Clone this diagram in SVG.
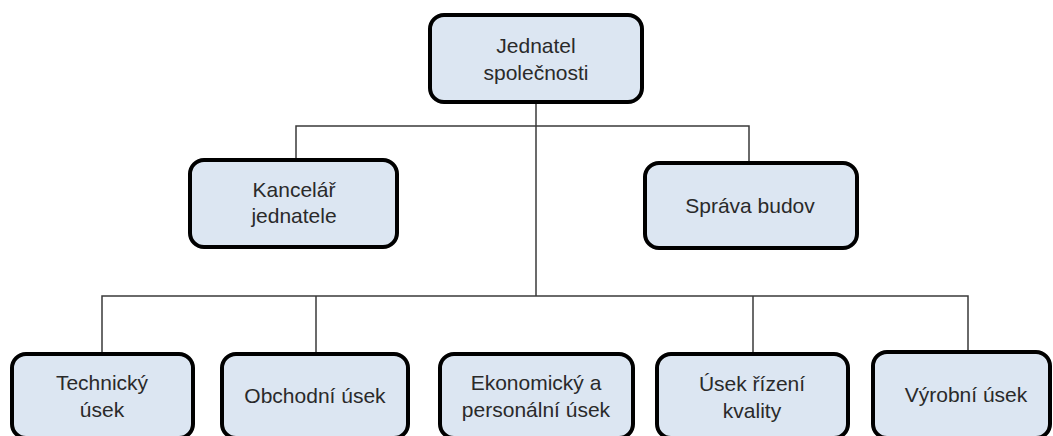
<svg xmlns="http://www.w3.org/2000/svg" width="1053" height="436" viewBox="0 0 1053 436">
<style>
.box{fill:#dce6f2;stroke:#000;stroke-width:4;}
.t{font-family:"Liberation Sans",Arial,sans-serif;font-size:21px;fill:#2a2a2a;text-anchor:middle;}
.c{fill:none;stroke:#3a3a3a;stroke-width:1.5;}
</style>
<rect width="1053" height="436" fill="#fff"/>
<g id="connectors">
<path class="c" d="M536 102 V296"/>
<path class="c" d="M296 160 V126 H749 V163"/>
<path class="c" d="M102 354 V296 H968 V352"/>
<path class="c" d="M316 354 V296"/>
<path class="c" d="M753 354 V296"/>
</g>
<g id="n-jednatel">
<rect class="box" x="430" y="15" width="212" height="87" rx="14"/>
<text class="t" x="536" y="53">Jednatel</text>
<text class="t" x="536" y="80">společnosti</text>
</g>
<g id="n-kancelar">
<rect class="box" x="190" y="160" width="207" height="87" rx="14"/>
<text class="t" x="294" y="197">Kancelář</text>
<text class="t" x="294" y="223">jednatele</text>
</g>
<g id="n-sprava">
<rect class="box" x="645" y="163" width="212" height="85" rx="14"/>
<text class="t" x="750" y="213">Správa budov</text>
</g>
<g id="n-technicky">
<rect class="box" x="12" y="354" width="181" height="84" rx="14"/>
<text class="t" x="102" y="390">Technický</text>
<text class="t" x="102" y="417">úsek</text>
</g>
<g id="n-obchodni">
<rect class="box" x="222" y="354" width="186" height="84" rx="14"/>
<text class="t" x="315" y="403">Obchodní úsek</text>
</g>
<g id="n-ekonomicky">
<rect class="box" x="440" y="354" width="193" height="84" rx="14"/>
<text class="t" x="536" y="390">Ekonomický a</text>
<text class="t" x="536" y="417">personální úsek</text>
</g>
<g id="n-kvalita">
<rect class="box" x="657" y="354" width="191" height="84" rx="14"/>
<text class="t" x="752" y="391">Úsek řízení</text>
<text class="t" x="752" y="418">kvality</text>
</g>
<g id="n-vyrobni">
<rect class="box" x="873" y="352" width="177" height="86" rx="14"/>
<text class="t" x="966" y="402">Výrobní úsek</text>
</g>
</svg>
